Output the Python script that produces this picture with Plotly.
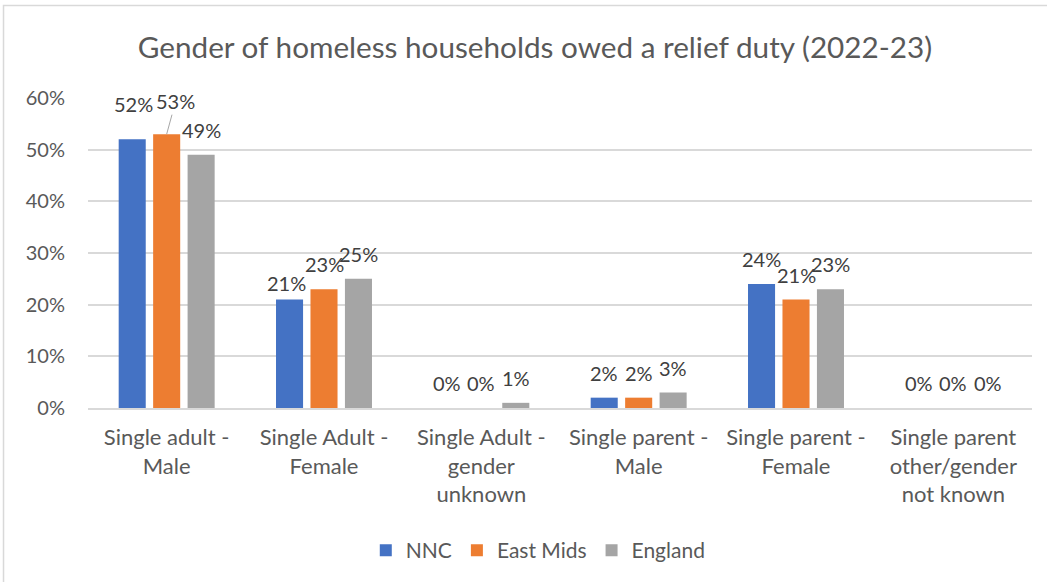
import plotly.graph_objects as go

categories = [
    "Single adult -<br>Male",
    "Single Adult -<br>Female",
    "Single Adult -<br>gender<br>unknown",
    "Single parent -<br>Male",
    "Single parent -<br>Female",
    "Single parent<br>other/gender<br>not known",
]
series_names = ["NNC", "East Mids", "England"]
nnc = [0.52, 0.21, 0.00, 0.02, 0.24, 0.00]
east_mids = [0.53, 0.23, 0.00, 0.02, 0.21, 0.00]
england = [0.49, 0.25, 0.01, 0.03, 0.23, 0.00]
colors = ["#4472C4", "#ED7D31", "#A5A5A5"]

FONT = "Lato, 'Open Sans', sans-serif"

# grouped bar geometry in category units
SLOT = 0.219      # distance between neighbouring bars in a group
BAR_W = 0.172     # bar width

# label placement: default lift above bar end, plus a few nudged labels
LABEL_LIFT = 25
label_nudge = {   # (series index, category index): (dx px, lift px, leader line)
    (0, 0): (1, 35, False),
    (1, 0): (9, 33, True),
    (0, 1): (-3, 17, False),
}

fig = go.Figure()
annotations = []
series_vals = [nnc, east_mids, england]
for j, (name, vals, col) in enumerate(zip(series_names, series_vals, colors)):
    xs = [i + (j - 1) * SLOT for i in range(len(categories))]
    fig.add_trace(go.Bar(
        name=name,
        x=xs,
        y=vals,
        width=BAR_W,
        marker=dict(color=col, line=dict(width=0)),
        hovertemplate=name + ": %{y:.0%}<extra></extra>",
    ))
    for i, (x, v) in enumerate(zip(xs, vals)):
        dx, lift, leader = label_nudge.get((j, i), (0, LABEL_LIFT, False))
        ann = dict(
            x=x, y=v, xref="x", yref="y",
            text=f"{v:.0%}",
            font=dict(family=FONT, size=20, color="#404040"),
        )
        if leader:
            ann.update(showarrow=True, arrowhead=0, arrowwidth=1,
                       arrowcolor="#A6A6A6", ax=dx, ay=-lift,
                       axref="pixel", ayref="pixel", standoff=0)
        else:
            ann.update(showarrow=False, xanchor="center", yanchor="middle",
                       xshift=dx, yshift=lift)
        annotations.append(ann)

fig.update_layout(
    width=1047,
    height=582,
    margin=dict(l=88, r=15, t=98, b=173),
    paper_bgcolor="white",
    plot_bgcolor="white",
    barmode="overlay",
    title=dict(
        text="Gender of homeless households owed a relief duty (2022-23)",
        x=0.4735, xanchor="center",
        y=0.918, yanchor="middle",
        xref="paper",
        font=dict(family=FONT, size=29.7, color="#595959"),
    ),
    font=dict(family=FONT, color="#595959"),
    legend=dict(
        orientation="h",
        x=0.477, xanchor="center",
        y=-0.455, yanchor="middle",
        font=dict(family=FONT, size=21, color="#595959"),
        itemwidth=30,
        traceorder="normal",
    ),
    xaxis=dict(
        range=[-0.5, len(categories) - 0.5],
        tickvals=list(range(len(categories))),
        ticktext=categories,
        showgrid=False,
        zeroline=False,
        showline=True,
        linecolor="#D9D9D9",
        linewidth=1.5,
        tickfont=dict(family=FONT, size=22, color="#595959"),
        ticks="",
        ticklabelstandoff=9,
    ),
    yaxis=dict(
        range=[0, 0.6],
        dtick=0.1,
        tickformat=".0%",
        showgrid=True,
        gridcolor="#D9D9D9",
        gridwidth=1.5,
        zeroline=False,
        tickfont=dict(family=FONT, size=20, color="#595959"),
        ticks="",
        ticklabelstandoff=22,
    ),
    annotations=annotations,
    shapes=[
        dict(
            type="rect", xref="paper", yref="paper",
            x0=-0.0895, x1=1.05, y0=-0.7, y1=1.298,
            line=dict(color="#D9D9D9", width=1.5),
            fillcolor="rgba(0,0,0,0)", layer="below",
        )
    ],
)

fig.write_html("out.html")
